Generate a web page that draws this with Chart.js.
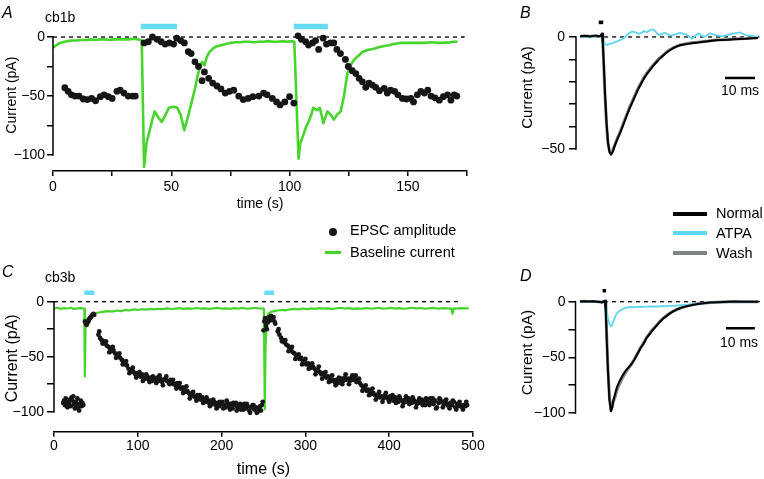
<!DOCTYPE html>
<html>
<head>
<meta charset="utf-8">
<script src="https://cdn.jsdelivr.net/npm/chart.js@4.4.1/dist/chart.umd.min.js"></script>
<style>
  html, body { margin: 0; padding: 0; background: #fff; }
  #fig { position: relative; width: 764px; height: 479px; overflow: hidden;
         font-family: 'Liberation Sans', Arial, sans-serif; color: #000; }
  #fig canvas { position: absolute; left: 0; top: 0; }
  .t { position: absolute; line-height: 1; white-space: nowrap; }
  .letter { font-style: italic; font-size: 16px; }
  .s14 { font-size: 14px; }
  .lg { font-size: 14.5px; }
  .mid { transform: translateX(-50%); }
  .mark { position: absolute; }
</style>
</head>
<body>
<div id="fig">
  <canvas id="chartA" width="764" height="479"></canvas>
  <canvas id="chartB" width="764" height="479"></canvas>
  <canvas id="chartC" width="764" height="479"></canvas>
  <canvas id="chartD" width="764" height="479"></canvas>

  <div class="t letter" style="left:2px;top:4.5px">A</div>
  <div class="t s14" style="left:45px;top:10.2px">cb1b</div>
  <div class="t letter" style="left:520px;top:4.5px">B</div>
  <div class="t letter" style="left:2px;top:263.5px">C</div>
  <div class="t s14" style="left:45px;top:270.2px">cb3b</div>
  <div class="t letter" style="left:520px;top:267.5px">D</div>
  <div class="t s14 mid" style="left:740px;top:83.2px">10 ms</div>
  <div class="t s14 mid" style="left:739px;top:335.2px">10 ms</div>

  <!-- legend, middle -->
  <div class="mark" style="left:329px;top:228px;width:8px;height:8px;border-radius:50%;background:#161616"></div>
  <div class="t lg" style="left:350px;top:223.1px">EPSC amplitude</div>
  <div class="mark" style="left:325px;top:251.3px;width:16px;height:3px;background:#45d52b"></div>
  <div class="t lg" style="left:350px;top:245.4px">Baseline current</div>

  <!-- legend, right -->
  <div class="mark" style="left:673px;top:212px;width:34px;height:4px;background:#000"></div>
  <div class="t lg" style="left:716px;top:206.4px">Normal</div>
  <div class="mark" style="left:673px;top:231.3px;width:34px;height:4px;background:#5fd6f0"></div>
  <div class="t lg" style="left:716px;top:226.4px">ATPA</div>
  <div class="mark" style="left:673px;top:250.7px;width:34px;height:4px;background:#7f8585"></div>
  <div class="t lg" style="left:716px;top:245.8px">Wash</div>
</div>

<script>
// ---- Panel A (cb1b): time in s, current in pA ----
const epscA_t = [5, 6.4, 7.8, 9.3, 11, 12.8, 14.5, 16.3, 18, 20, 21.6, 23.4, 25, 27, 28.4, 30, 31.8, 33.6, 34.8,
  38.5, 40.3, 42, 44, 45.7, 47.4, 49.2, 51, 52.3, 54, 55.5, 57.2, 58.4, 60, 61.5, 63, 64, 65.8, 67.5, 69.3,
  71, 72.8, 74.6, 76.4, 78.5, 80.4, 82.5, 84.5, 87, 89, 90.5, 92.7, 94.5, 96, 98, 100, 101.8,
  103.6, 105, 106.8, 108, 109.7, 111, 112.3, 114.2, 115.6, 117.3, 118.7, 120, 121.5, 123.6, 124.8, 126.5,
  128, 129.4, 130.8, 132.2, 133.6, 135, 136.4, 138, 140, 141.3, 142.7, 144.4, 145.8, 147.7, 149.4, 151.3,
  152.4, 154, 155.5, 157, 158.4, 159.8, 161.5, 163.3, 165, 166.8, 168.2, 169.6, 170.7];
const epscA_v = [-43, -46, -49, -50, -50, -52.5, -53, -52, -54, -50.5, -49, -50.5, -52, -46, -45, -47.5, -50, -50, -50,
  -5, -4, 0, -2, -4, -6, -5, -6, -1, -3, -5, -12.4, -14, -21, -25, -37, -29.6, -35, -39, -41.5,
  -44, -47.5, -46, -45, -50, -53, -52, -50.5, -50, -47.5, -49, -52, -55, -57.5, -55, -50.5, -56,
  1, -2, -4, -6.8, -5, -3, -10.5, -1, -6, -5, -5, -10.5, -14, -19, -25, -28.5,
  -31, -35, -38, -42.6, -39, -40.7, -42.6, -45.5, -43.5, -47.5, -45, -46, -49, -52, -52.5, -52,
  -55, -49, -46, -47.5, -45, -50, -51.5, -53.5, -50.5, -49, -53.5, -49, -50];
const baseA_t = [0, 2, 4, 6, 8, 10, 12, 14, 16, 18, 20, 22, 24, 26, 28, 30, 32, 34, 36,
  37.5, 38.5, 39.5, 40.5, 42, 43, 44.5, 46, 47.5, 49, 51, 52.5, 54, 55.5, 57, 58.5, 60, 61, 62, 63, 64,
  65, 66, 67.5, 69, 71, 73, 75, 77, 79, 81, 83, 85, 87, 89, 91, 93, 95, 97, 99, 101, 102,
  103.8, 104.5, 105.5, 107, 108, 109, 110, 111.5, 112.8, 114.3, 116, 117.5, 118.7, 120, 121.6, 123, 124.4,
  126, 127.2, 129, 131, 133, 135.6, 138, 140, 142, 144, 147, 150, 153, 157, 160, 163, 165, 167, 169, 171];
const baseA_v = [-9, -6, -4.5, -3.5, -3, -3, -2.5, -2.5, -2, -2.5, -2, -2, -2.5, -2, -2, -2, -2, -1.5, -2,
  -3, -110, -90, -82, -70, -63, -68, -72, -66, -60, -59, -60, -66, -79, -68, -56, -44, -34, -26, -21, -24,
  -17, -13, -10, -8, -7, -6, -5, -4.5, -4.5, -4, -4, -4.5, -4, -4, -3.5, -4, -4, -3.5, -4, -3.5, -4,
  -103, -90, -85, -76, -72, -67, -60, -62, -60, -73, -63, -66, -70, -66, -63, -50, -31,
  -23, -19.5, -16, -12.5, -11, -10, -8.5, -7.6, -7, -6, -5, -5, -5, -5, -4.5, -5, -4.8, -4.8, -4, -4];
const drugA = [[37.1, 52.4], [101.8, 116.2]];
const xTicksA = [0, 25, 50, 75, 100, 125, 150, 175];
const xLabelsA = [0, 50, 100, 150];
const yTicksA = [-100, -75, -50, -25, 0];
const yLabelsA = [-100, -50, 0];

// ---- Panel B: averaged EPSCs, time in ms ----
const trB_t = [-7.3, -6, -4, -2, -1, -0.5, 0, 0.3, 0.6, 1, 1.5, 2, 2.5, 3, 3.5, 4, 5, 6, 7, 8, 9, 10,
  11, 12, 13, 14, 15, 16, 17, 18, 19, 20, 21, 22, 23, 24, 25, 26, 28, 30, 32, 34, 36, 38, 40, 42, 44, 46, 48, 50, 52];
const normalB = [0.3, 0.5, 0.2, 0.6, 0.3, 0.5, 1.5, -3, -12, -25, -38, -47, -51.5, -52.5, -51.5, -49.5, -46, -43, -39.5, -36, -32.5, -29.5,
  -26.5, -23.5, -21, -18.5, -16.5, -14.8, -13, -11.5, -10, -8.8, -7.6, -6.5, -5.6, -4.8, -4.2, -3.7, -3.2, -2.8, -2.5, -2.1, -1.8, -1.5, -1.3, -1.2, -1, -0.9, -0.8, -0.6, -0.5];
const atpaB = [0, 0.3, -0.2, 0.4, 0.2, 0, 0.5, -1, -2, -3, -3.6, -3.4, -3, -2.8, -3, -2.4, -2, -1.4, -0.8, 0.5, 1.6, 2.4,
  2.2, 1.4, 1.8, 2.6, 2.2, 3, 3.4, 2.2, 0.8, 1.4, 1.8, 1.2, 0.6, 0.9, 1.4, 1.8, 1.2, -0.8, 1.6, 0, 1.6, 0.8, 0.3, 0.9, 1.6, 2, 0.8, 0.5, 0];
const washB = [0.2, 0.4, 0.3, 0.5, 0.2, 0.4, 1.2, -3.5, -13, -26, -39, -47.5, -51, -52, -51, -49, -45.5, -42.5, -39, -35.5, -32, -29,
  -26, -23, -20.5, -18, -16, -14.3, -12.6, -11.1, -9.7, -8.5, -7.3, -6.3, -5.4, -4.7, -4.1, -3.6, -3, -2.6, -2.3, -2, -1.7, -1.4, -1.2, -1.1, -0.9, -0.8, -0.7, -0.5, -0.4];
const yTicksB = [-50, -40, -30, -20, -10, 0];
const yLabelsB = [-50, 0];

// ---- Panel C (cb3b) ----
const epscC_t = [11, 12, 13, 14, 15, 16, 17, 18, 19, 20, 21, 22, 23, 24, 25, 26, 27, 28, 29, 30, 31, 32, 33, 34, 35,
  37, 38, 39, 40, 41, 42, 43, 44, 45, 46, 47, 48,
  53, 55, 57, 59, 61, 63, 65, 67, 69, 71, 73, 75, 77, 79, 81, 83, 85, 87, 89, 91,
  93, 95, 97, 99, 101, 103, 105, 107, 109, 111, 113, 115, 117, 119, 121, 123, 125, 127, 129, 131,
  133, 135, 137, 139, 141, 143, 145, 147, 149, 151, 153, 155, 157, 159, 161, 163, 165, 167, 169, 171,
  173, 175, 177, 179, 181, 183, 185, 187, 189, 191, 193, 195, 197, 199, 201, 203, 205, 207, 209, 211,
  213, 215, 217, 219, 221, 223, 225, 227, 229, 231, 233, 235, 237, 239, 241, 243, 245, 247, 248,
  249, 250, 251, 252, 253, 254, 255, 256, 257, 258, 259, 260, 262, 263, 264,
  267, 269, 271, 273, 275, 277, 279, 281, 283, 285, 287, 289, 291, 293, 295, 297, 299, 301, 303, 305,
  307, 309, 311, 313, 315, 317, 319, 321, 323, 325, 327, 329, 331, 333, 335, 337, 339, 341, 343, 345,
  347, 349, 351, 353, 355, 357, 359, 361, 363, 365, 367, 369, 371, 373, 375, 377, 379, 381, 383, 385,
  387, 389, 391, 393, 395, 397, 399, 401, 403, 405, 407, 409, 411, 413, 415, 417, 419, 421, 423, 425,
  427, 429, 431, 433, 435, 437, 439, 441, 443, 445, 447, 449, 451, 453, 455, 457, 459, 461, 463, 465,
  467, 469, 471, 473, 475, 477, 479, 481, 483, 485, 487, 489, 491, 493];
const epscC_v = [-92, -90, -94, -88, -92, -96, -91, -93, -89, -95, -87, -90, -86, -93, -97, -91, -94, -88, -96, -99, -93, -90, -95, -92, -94,
  -18, -20, -21, -19, -18, -16, -15, -14, -13, -12, -11, -12,
  -30, -33, -35, -36, -38, -40, -41, -43, -45, -44, -47, -48, -50, -51, -53, -55, -57, -58, -61, -63,
  -62, -64, -66, -65, -67, -68, -66, -69, -70, -68, -71, -69, -72, -70, -71, -69, -72, -70, -73, -71,
  -70, -72, -74, -71, -73, -75, -76, -74, -77, -79, -78, -80, -82, -81, -83, -85, -84, -86, -87, -85,
  -88, -89, -87, -90, -91, -89, -92, -90, -93, -91, -94, -92, -95, -93, -91, -94, -96, -92, -95, -93,
  -97, -94, -92, -96, -94, -98, -95, -93, -97, -95, -99, -96, -94, -98, -96, -100, -97, -99, -94,
  -91, -26, -18, -15, -22, -25, -19, -16, -14, -17, -13, -15, -14, -18, -20,
  -27, -30, -33, -35, -37, -39, -40, -42, -43, -46, -47, -49, -50, -52, -51, -54, -55, -57, -56, -58,
  -60, -59, -61, -63, -62, -64, -66, -65, -67, -69, -68, -70, -72, -71, -73, -71, -74, -72, -70, -72,
  -69, -71, -70, -72, -69, -71, -70, -73, -71, -74, -76, -78, -79, -81, -80, -82, -84, -83, -85, -86,
  -84, -87, -86, -88, -85, -87, -89, -86, -88, -90, -87, -89, -91, -88, -90, -92, -89, -91, -88, -90,
  -92, -89, -91, -93, -90, -92, -89, -91, -94, -90, -92, -88, -91, -93, -90, -96, -92, -89, -91, -94,
  -90, -93, -95, -92, -94, -91, -96, -93, -95, -94, -96, -94, -95, -94];
// second set of sweeps in C, the scatter around the recovery
const epscC2_t = [54, 58, 62, 66, 70, 74, 78, 82, 86, 90, 94, 98, 102, 106, 110, 114, 118, 122, 126, 130,
  134, 138, 142, 146, 150, 154, 158, 162, 166, 170, 174, 178, 182, 186, 190, 194, 198, 202, 206, 210,
  214, 218, 222, 226, 230, 234, 238, 242, 246,
  268, 272, 276, 280, 284, 288, 292, 296, 300, 304, 308, 312, 316, 320, 324, 328, 332, 336, 340, 344,
  348, 352, 356, 360, 364, 368, 372, 376, 380, 384, 388, 392, 396, 400, 404, 408, 412, 416, 420, 424,
  428, 432, 436, 440, 444, 448, 452, 456, 460, 464, 468, 472, 476, 480, 484, 488, 492];
const epscC2_v = [-27, -38, -36, -46, -41, -51, -47, -57, -54, -65, -60, -69, -64, -72, -66, -73, -68, -74, -67, -76,
  -68, -75, -71, -79, -74, -83, -77, -88, -82, -90, -85, -92, -87, -95, -89, -97, -91, -97, -90, -98,
  -92, -99, -93, -98, -93, -101, -94, -101, -95,
  -25, -36, -35, -45, -41, -52, -48, -57, -52, -61, -56, -66, -59, -70, -64, -73, -67, -76, -69, -75,
  -66, -75, -67, -67, -70, -81, -76, -85, -79, -89, -82, -91, -83, -91, -85, -92, -86, -95, -86, -93,
  -87, -96, -88, -94, -88, -94, -88, -97, -88, -96, -89, -97, -90, -98, -91, -98, -91];
const baseC_t = [0, 4, 8, 12, 16, 20, 24, 28, 32, 35, 36.2, 36.8, 37.6, 38.5, 40, 42, 45, 48, 52, 56,
  60, 65, 70, 75, 80, 85, 90, 95, 100, 105, 110, 115, 120, 125, 130, 135, 140, 145, 150, 155,
  160, 165, 170, 175, 180, 185, 190, 195, 200, 205, 210, 215, 220, 225, 230, 235, 240, 245,
  249, 250.5, 251.5, 252.5, 254, 255, 257, 260, 263, 267,
  272, 277, 282, 287, 292, 297, 302, 307, 312, 317, 322, 327, 332, 337, 342, 347, 352, 357, 362, 367,
  372, 377, 382, 387, 392, 397, 402, 407, 412, 417, 422, 427, 432, 437, 442, 447, 452, 457, 462, 467,
  471, 474, 475.5, 477, 480, 485, 490, 495];
const baseC_v = [-6, -5.5, -6.5, -5.8, -6.2, -5.5, -6.5, -6, -5.8, -6.2, -6.5, -68, -25, -18, -15, -14, -12, -11, -10, -9.5,
  -9, -8.5, -9, -8, -8.5, -7.5, -8, -7, -7.5, -6.8, -7.2, -6.5, -7, -6.4, -6.8, -6, -6.6, -6.2, -5.8, -6.5,
  -6, -6.4, -5.7, -6.2, -6, -6.6, -6, -5.6, -6.3, -6, -6.5, -5.8, -6.2, -5.6, -6.4, -6, -5.5, -6.2,
  -6, -6.5, -98, -40, -15, -12, -10, -9, -8.5, -8,
  -7.5, -7.8, -7, -6.5, -7, -6.2, -6.8, -6, -6.5, -5.8, -6.3, -6, -6.6, -6, -5.5, -6.2, -5.8, -6.5, -6, -6.4,
  -5.7, -6.2, -6, -5.5, -6.3, -6, -5.6, -6.2, -5.8, -6.4, -6, -5.5, -6.1, -5.7, -6.3, -6, -5.6, -6.2, -6, -5.8,
  -6.2, -6, -11, -6, -6.2, -5.8, -6, -6];
const drugC = [[36.2, 48.1], [251, 262.5]];
const xTicksC = [0, 100, 200, 300, 400, 500];
const yTicksC = [-100, -75, -50, -25, 0];
const yLabelsC = [-100, -50, 0];

// ---- Panel D ----
const trD_t = [-8.5, -7, -5.5, -4, -2, -1, 0, 0.3, 0.6, 1, 1.5, 2, 2.4, 2.8, 3.5, 4, 5, 6, 7, 8, 9, 10,
  11, 12, 13, 14, 15, 16, 17, 18, 19, 20, 21, 22, 23, 24, 25, 26, 28, 30, 32, 34, 36, 38, 40, 42, 44, 46, 48, 50, 52];
const normalD = [0.2, 0.4, 0.1, 0.3, -0.2, -0.5, 0.8, -10, -35, -62, -88, -98.5, -96, -89, -82, -77, -71, -66, -62, -59, -56, -52,
  -47, -42, -38, -33, -29.5, -26, -23, -20, -17, -14.5, -12.5, -10.5, -9, -7.5, -6.3, -5.3, -3.8, -2.7, -1.8, -1.1, -0.7, -0.4, -0.2, 0, 0.1, 0, -0.1, 0, 0];
const atpaD = [0, 0.2, 0, 0.1, 0, -0.2, 0.5, -2, -8, -15, -20, -22, -21, -18, -13, -10.5, -8, -6.5, -5.5, -5, -5, -4.8,
  -4.6, -4.5, -4.6, -4.5, -4.3, -4.4, -4.2, -4.3, -4, -4.1, -3.9, -3.8, -3.7, -3.5, -3.3, -3.1, -2.7, -2.2, -1.8, -1.4, -1, -0.7, -0.5, -0.3, -0.2, -0.1, 0, 0.1, 0];
const washD = [0.1, 0.3, 0.2, 0.2, -0.1, -0.4, 0.6, -9, -32, -60, -86, -97, -95, -90, -85, -80, -73.5, -68, -63.5, -59.5, -56, -51.5,
  -46.5, -41.5, -37.5, -32.5, -29, -25.5, -22.5, -19.5, -16.8, -14.3, -12.2, -10.3, -8.8, -7.4, -6.2, -5.2, -3.7, -2.6, -1.7, -1.1, -0.7, -0.4, -0.2, -0.1, 0, 0, -0.1, 0, 0];
const yTicksD = [-100, -75, -50, -25, 0];
const yLabelsD = [-100, -50, 0];

const GREEN = '#45d52b';
const CYAN_BAR = '#66dbf3';
const CYAN = '#5fd6f0';
const GRAY = '#7f8585';
const DOT = '#161616';

Chart.defaults.font.family = "'Liberation Sans', Arial, sans-serif";
Chart.defaults.font.size = 14;
Chart.defaults.color = '#000';

// y axis line only between the labelled limits (detached axis look)
const axisLinePlugin = {
  id: 'axisLine',
  afterDraw: function (chart, args, opts) {
    if (!opts || opts.from === undefined) return;
    const y = chart.scales.y;
    const x = chart.chartArea.left;
    const ctx = chart.ctx;
    ctx.save();
    ctx.strokeStyle = '#000';
    ctx.lineWidth = 1.5;
    ctx.beginPath();
    ctx.moveTo(x, y.getPixelForValue(opts.from) - 0.75);
    ctx.lineTo(x, y.getPixelForValue(opts.to) + 0.75);
    ctx.stroke();
    ctx.restore();
  }
};
Chart.register(axisLinePlugin);

function pts(xs, ys) {
  return xs.map(function (x, i) { return { x: x, y: ys[i] }; });
}
function seg(span, y) {
  return [{ x: span[0], y: y }, { x: span[1], y: y }];
}
function minus(v) {
  return v === 0 ? '0' : '\u2212' + Math.abs(v);
}

function lineSet(data, color, width, extra) {
  return Object.assign({
    data: data, borderColor: color, borderWidth: width, pointRadius: 0,
    tension: 0, fill: false, borderCapStyle: 'butt', borderJoinStyle: 'round'
  }, extra || {});
}
function dotSet(data, r) {
  return { data: data, showLine: false, pointRadius: r, pointHoverRadius: r,
    pointBackgroundColor: DOT, pointBorderWidth: 0 };
}
function zeroSet(a, b) {
  return lineSet(seg([a, b], 0), '#000', 1.3, { borderDash: [4, 4] });
}

function yAxis(o) {
  return {
    type: 'linear', position: 'left', min: o.min, max: o.max,
    afterFit: function (s) { s.width = o.width; },
    afterBuildTicks: function (s) { s.ticks = o.ticks.map(function (v) { return { value: v }; }); },
    border: { display: false },
    grid: { drawOnChartArea: false, tickLength: o.tick, color: '#000', lineWidth: 1.5, tickColor: '#000', tickWidth: 1.5 },
    ticks: {
      padding: o.pad, autoSkip: false, maxRotation: 0, color: '#000', font: { size: 14 },
      callback: function (v) { return o.labels.indexOf(v) >= 0 ? minus(v) : ''; }
    },
    title: { display: true, text: 'Current (pA)', color: '#000', font: { size: o.titleSize },
      padding: { top: o.titlePad, bottom: 0 } }
  };
}

function xAxis(o) {
  if (!o.show) {
    return { type: 'linear', display: false, min: o.min, max: o.max };
  }
  return {
    type: 'linear', position: 'bottom', min: o.min, max: o.max,
    afterFit: function (s) { s.height = o.height; },
    afterBuildTicks: function (s) { s.ticks = o.ticks.map(function (v) { return { value: v }; }); },
    border: { display: true, color: '#000', width: 1.5 },
    grid: { drawOnChartArea: false, tickLength: o.tick, color: '#000', lineWidth: 1.5, tickColor: '#000', tickWidth: 1.5 },
    ticks: {
      padding: o.pad, autoSkip: false, maxRotation: 0, color: '#000', font: { size: 14 },
      callback: function (v) { return o.labels.indexOf(v) >= 0 ? String(v) : ''; }
    },
    title: { display: true, text: 'time (s)', color: '#000', font: { size: o.titleSize },
      padding: { top: 0, bottom: o.titlePad } }
  };
}

function makeChart(id, cfg) {
  return new Chart(document.getElementById(id), {
    type: 'line',
    data: { datasets: cfg.datasets },
    options: {
      responsive: false,
      animation: false,
      devicePixelRatio: 1,
      events: [],
      layout: { padding: cfg.padding },
      plugins: { legend: { display: false }, tooltip: { enabled: false }, axisLine: cfg.axisLine },
      scales: { x: cfg.x, y: cfg.y }
    }
  });
}

// first dataset is drawn on top
makeChart('chartA', {
  padding: { left: 0, right: 297, top: 19.3, bottom: 263 },
  axisLine: { from: 0, to: -100 },
  x: xAxis({ show: true, min: 0, max: 175, height: 45, ticks: xTicksA, labels: xLabelsA,
    tick: 5, pad: 3, titleSize: 14, titlePad: 3 }),
  y: yAxis({ min: -113.5, max: 15, width: 53, ticks: yTicksA, labels: yLabelsA,
    tick: 6, pad: 2, titleSize: 14, titlePad: 4.1 }),
  datasets: [
    lineSet(seg(drugA[0], 8.8), CYAN_BAR, 5.5),
    lineSet(seg(drugA[1], 8.8), CYAN_BAR, 5.5),
    dotSet(pts(epscA_t, epscA_v), 3.4),
    lineSet(pts(baseA_t, baseA_v), GREEN, 2.6),
    zeroSet(0, 174)
  ]
});

makeChart('chartB', {
  padding: { left: 510, right: 4, top: 15, bottom: 319 },
  axisLine: { from: 0, to: -50 },
  x: xAxis({ show: false, min: -8.667, max: 52.667 }),
  y: yAxis({ min: -54.9, max: 9.8, width: 66, ticks: yTicksB, labels: yLabelsB,
    tick: 7, pad: 4, titleSize: 15, titlePad: 8.5 }),
  datasets: [
    lineSet(seg([-1.1, 0.4], 6.5), '#000', 3.6),
    lineSet(seg([41, 51], -18.3), '#000', 2.5),
    lineSet(pts(trB_t, normalB), '#000', 2),
    lineSet(pts(trB_t, atpaB), CYAN, 1.8),
    lineSet(pts(trB_t, washB), GRAY, 3),
    zeroSet(-7.3, 52.5)
  ]
});

makeChart('chartC', {
  padding: { left: 0, right: 291, top: 285, bottom: 0 },
  axisLine: { from: 0, to: -100 },
  x: xAxis({ show: true, min: 0, max: 500, height: 47.3, ticks: xTicksC, labels: xTicksC,
    tick: 5, pad: 1.5, titleSize: 16, titlePad: 0 }),
  y: yAxis({ min: -118.2, max: 15.2, width: 54, ticks: yTicksC, labels: yLabelsC,
    tick: 7, pad: 3, titleSize: 16, titlePad: 3.4 }),
  datasets: [
    lineSet(seg(drugC[0], 8.1), CYAN_BAR, 4.5),
    lineSet(seg(drugC[1], 8.1), CYAN_BAR, 4.5),
    dotSet(pts(epscC_t, epscC_v).concat(pts(epscC2_t, epscC2_v)), 2.4),
    lineSet(pts(baseC_t, baseC_v), GREEN, 2.2),
    zeroSet(0, 482)
  ]
});

makeChart('chartD', {
  padding: { left: 510, right: 4, top: 285, bottom: 59 },
  axisLine: { from: 0, to: -100 },
  x: xAxis({ show: false, min: -10, max: 52.54 }),
  y: yAxis({ min: -106.3, max: 15, width: 65.5, ticks: yTicksD, labels: yLabelsD,
    tick: 7, pad: 3, titleSize: 15.5, titlePad: 8.7 }),
  datasets: [
    lineSet(seg([-0.8, 0.35], 9.9), '#000', 3.4),
    lineSet(seg([41, 50.8], -23.9), '#000', 2.5),
    lineSet(pts(trD_t, normalD), '#000', 2),
    lineSet(pts(trD_t, atpaD), CYAN, 1.8),
    lineSet(pts(trD_t, washD), GRAY, 3),
    zeroSet(-8.5, 52.5)
  ]
});
</script>
</body>
</html>
